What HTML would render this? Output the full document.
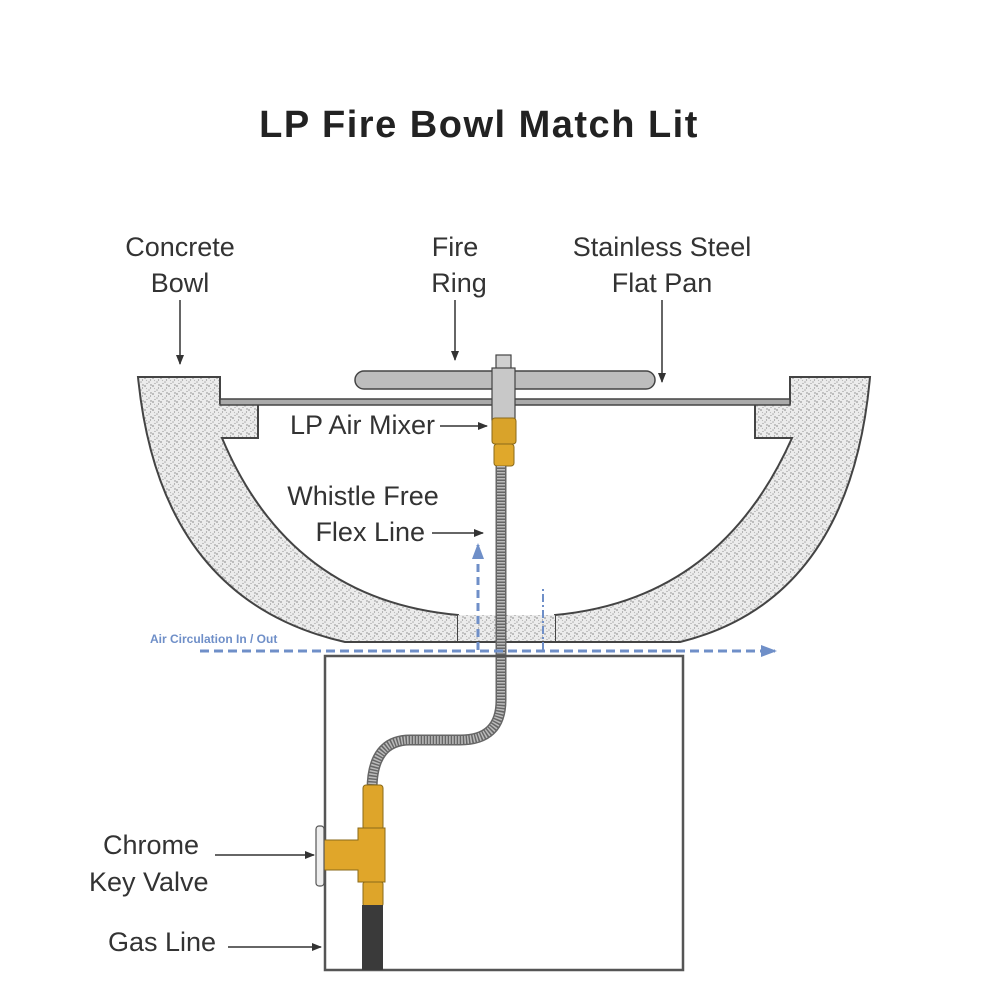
<!DOCTYPE html>
<html><head><meta charset="utf-8"><style>
html,body{margin:0;padding:0;background:#fff;width:1000px;height:1000px;overflow:hidden}
svg text{font-family:"Liberation Sans",sans-serif;fill:#333}
</style></head><body>
<svg width="1000" height="1000" viewBox="0 0 1000 1000" xmlns="http://www.w3.org/2000/svg">
<defs>
<pattern id="st" width="8" height="8" patternUnits="userSpaceOnUse">
<rect width="8" height="8" fill="#ececec"/>
<circle cx="1" cy="2" r="0.9" fill="#999"/><circle cx="5" cy="6" r="0.8" fill="#aaa"/>
<circle cx="7" cy="1" r="0.7" fill="#888"/><circle cx="3" cy="7.5" r="0.6" fill="#999"/>
<circle cx="6.5" cy="4" r="0.6" fill="#888"/><circle cx="2.5" cy="4.5" r="0.6" fill="#bbb"/>
</pattern>
<marker id="ar" markerWidth="10" markerHeight="8" refX="9" refY="4" orient="auto" markerUnits="userSpaceOnUse">
<path d="M0,0 L10,4 L0,8 z" fill="#333"/></marker>
<marker id="bar" markerWidth="16" markerHeight="12" refX="14" refY="6" orient="auto" markerUnits="userSpaceOnUse">
<path d="M0,0 L16,6 L0,12 z" fill="#6f8fc8"/></marker>
</defs>

<text x="479" y="137" font-size="38" font-weight="bold" text-anchor="middle" letter-spacing="1.5" style="fill:#222">LP Fire Bowl Match Lit</text>

<g font-size="27" text-anchor="middle">
<text x="180" y="256">Concrete</text><text x="180" y="292">Bowl</text>
<text x="455" y="256">Fire</text><text x="459" y="292">Ring</text>
<text x="662" y="256">Stainless Steel</text><text x="662" y="292">Flat Pan</text>
</g>
<g stroke="#333" stroke-width="1.5">
<line x1="180" y1="300" x2="180" y2="364" marker-end="url(#ar)"/>
<line x1="455" y1="300" x2="455" y2="360" marker-end="url(#ar)"/>
<line x1="662" y1="300" x2="662" y2="382" marker-end="url(#ar)"/>
</g>

<path d="M138,377 L220,377 L220,403 L258,403 L258,438 L222,438 Q290,600 458,615 L458,642 L345,642 Q160,600 138,377 Z" fill="url(#st)" stroke="#444" stroke-width="2"/>
<path d="M870,377 L790,377 L790,403 L755,403 L755,438 L792,438 Q720,600 555,615 L555,642 L680,642 Q850,600 870,377 Z" fill="url(#st)" stroke="#444" stroke-width="2"/>
<rect x="458" y="615" width="97" height="27" fill="url(#st)"/>
<line x1="345" y1="642" x2="680" y2="642" stroke="#444" stroke-width="2"/>

<rect x="220" y="399" width="570" height="6" fill="#aaa" stroke="#444" stroke-width="1.5"/>
<rect x="355" y="371" width="300" height="18" rx="9" fill="#bdbdbd" stroke="#444" stroke-width="1.5"/>
<rect x="496" y="355" width="15" height="14" fill="#d0d0d0" stroke="#444" stroke-width="1.2"/>
<rect x="492" y="368" width="23" height="52" fill="#c8c8c8" stroke="#444" stroke-width="1.2"/>
<rect x="492" y="418" width="24" height="26" rx="3" fill="#d9a32a" stroke="#8a6a1a" stroke-width="1"/>
<rect x="494" y="444" width="20" height="22" rx="3" fill="#e0a82b" stroke="#8a6a1a" stroke-width="1"/>

<path d="M501,466 L501,700 Q501,740 460,740 L410,740 Q372,740 372,790" fill="none" stroke="#666" stroke-width="11"/>
<path d="M501,466 L501,700 Q501,740 460,740 L410,740 Q372,740 372,790" fill="none" stroke="#bbb" stroke-width="8" stroke-dasharray="1.5 1.5"/>

<rect x="325" y="656" width="358" height="314" fill="none" stroke="#555" stroke-width="2.5"/>

<rect x="363" y="785" width="20" height="45" rx="3" fill="#dea52a" stroke="#8a6a1a" stroke-width="1"/>
<path d="M320,840 L358,840 L358,828 L385,828 L385,882 L358,882 L358,870 L320,870 Z" fill="#e0a62a" stroke="#8a6a1a" stroke-width="1"/>
<rect x="316" y="826" width="8" height="60" rx="3" fill="#eee" stroke="#555" stroke-width="1.2"/>
<rect x="363" y="882" width="20" height="24" rx="2" fill="#dea52a" stroke="#8a6a1a" stroke-width="1"/>
<rect x="362" y="905" width="21" height="65" fill="#3a3a3a"/>

<g stroke="#6f8fc8" stroke-width="3" fill="none">
<line x1="200" y1="651" x2="775" y2="651" stroke-dasharray="9 5" marker-end="url(#bar)"/>
<line x1="478" y1="650" x2="478" y2="545" stroke-dasharray="8 5" marker-end="url(#bar)"/>
<line x1="543" y1="650" x2="543" y2="588" stroke-width="2" stroke-dasharray="8 3 2 3"/>
</g>
<text x="150" y="643" font-size="12" font-weight="bold" style="fill:#6f8fc8">Air Circulation In / Out</text>

<g font-size="27">
<text x="435" y="434" text-anchor="end">LP Air Mixer</text>
<text x="363" y="505" text-anchor="middle">Whistle Free</text>
<text x="425" y="541" text-anchor="end">Flex Line</text>
<text x="103" y="854">Chrome</text>
<text x="89" y="891">Key Valve</text>
<text x="108" y="951">Gas Line</text>
</g>
<g stroke="#333" stroke-width="1.5">
<line x1="440" y1="426" x2="487" y2="426" marker-end="url(#ar)"/>
<line x1="432" y1="533" x2="483" y2="533" marker-end="url(#ar)"/>
<line x1="215" y1="855" x2="314" y2="855" marker-end="url(#ar)"/>
<line x1="228" y1="947" x2="321" y2="947" marker-end="url(#ar)"/>
</g>
</svg>
</body></html>
